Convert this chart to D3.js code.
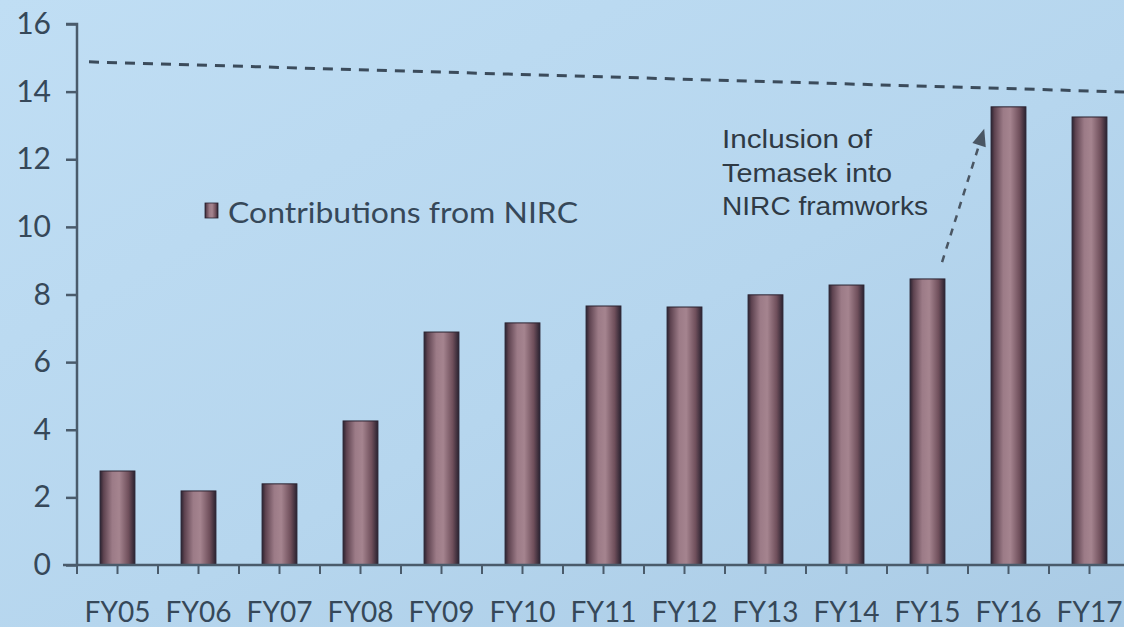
<!DOCTYPE html>
<html>
<head>
<meta charset="utf-8">
<script src="https://cdn.jsdelivr.net/npm/d3@7"></script>
<style>
  html, body { margin: 0; padding: 0; background: #b8d7ee; }
  svg { display: block; }
</style>
</head>
<body>
<svg id="chart" width="1124" height="627"></svg>
<script>
// Fiscal years and NIRC contributions (S$ billion)
const categories = ["FY05","FY06","FY07","FY08","FY09","FY10","FY11","FY12","FY13","FY14","FY15","FY16","FY17"];
const contributions = [2.78, 2.19, 2.40, 4.26, 6.89, 7.16, 7.66, 7.63, 7.99, 8.28, 8.46, 13.55, 13.25];
const yTicks = [0, 2, 4, 6, 8, 10, 12, 14, 16];
const legendLabel = "Contributions from NIRC";
// Dashed reference line: value at its left end and at its right end
const refLineValues = [14.88, 13.99];
// Annotation arrow: [fractional category index, value] for tail and head
const arrowTail = [10.68, 8.96];
const arrowHead = [11.2, 12.9];
const noteLines = ["Inclusion of", "Temasek into", "NIRC framworks"];
const noteWidths = [150, 170, 206];

const svg = d3.select("#chart");
const W = 1124, H = 627;
const ink = "#364859";

// Slide background
const defs = svg.append("defs");
const bg = defs.append("linearGradient").attr("id", "bg")
  .attr("x1", "0").attr("y1", "0").attr("x2", "1").attr("y2", "1");
bg.append("stop").attr("offset", "0%").attr("stop-color", "#c0def4");
bg.append("stop").attr("offset", "55%").attr("stop-color", "#b6d6ee");
bg.append("stop").attr("offset", "100%").attr("stop-color", "#aacbe5");
svg.append("rect").attr("width", W).attr("height", H).attr("fill", "url(#bg)");

// Cylinder-like shading for the bars
const barGrad = defs.append("linearGradient").attr("id", "bar")
  .attr("x1", "0").attr("y1", "0").attr("x2", "1").attr("y2", "0");
[["0%", "#2c2330"], ["10%", "#5e4350"], ["35%", "#9c7b87"], ["55%", "#a5848f"],
 ["82%", "#6f4f5b"], ["100%", "#2a2230"]].forEach(([o, c]) =>
  barGrad.append("stop").attr("offset", o).attr("stop-color", c));

const x0 = 77, step = 81;
const x = d3.scaleBand().domain(categories)
  .range([x0, x0 + step * categories.length])
  .paddingInner(0.57).paddingOuter(0.285);
const xi = d3.scaleLinear().domain([0, categories.length]).range([x0, x0 + step * categories.length]);
const y = d3.scaleLinear().domain([0, 16]).range([565, 24]);

// Bars
svg.append("g").selectAll("rect").data(categories).join("rect")
  .attr("x", d => x(d))
  .attr("width", x.bandwidth())
  .attr("y", (d, i) => y(contributions[i]))
  .attr("height", (d, i) => y(0) - y(contributions[i]))
  .attr("fill", "url(#bar)")
  .attr("stroke", "#2a2230").attr("stroke-width", 1);

// Y axis
const yAxis = svg.append("g").attr("transform", `translate(${x0},0)`)
  .call(d3.axisLeft(y).tickValues(yTicks).tickSize(11).tickPadding(15));
yAxis.select(".domain").attr("d", `M-11,${y(16)}H0V${y(0)}`);
yAxis.selectAll("line, path").attr("stroke", "#4a5b6b").attr("stroke-width", 2.5);
yAxis.selectAll("text").attr("fill", ink)
  .style("font-family", "Lato, 'Open Sans', sans-serif").style("font-size", "30px");

// X axis: ticks at band edges and band centers
const halfSteps = d3.range(0, categories.length * 2 + 1).map(k => k / 2);
const xAxisG = svg.append("g").attr("transform", `translate(0,${y(0)})`);
xAxisG.append("line").attr("x1", x0 - 14).attr("x2", W)
  .attr("stroke", "#4a5b6b").attr("stroke-width", 2.5);
xAxisG.selectAll("line.tick").data(halfSteps).join("line").attr("class", "tick")
  .attr("x1", d => xi(d)).attr("x2", d => xi(d))
  .attr("y1", 0).attr("y2", 9)
  .attr("stroke", "#4a5b6b").attr("stroke-width", 2);
xAxisG.selectAll("text").data(categories).join("text")
  .attr("x", d => x(d) + x.bandwidth() / 2)
  .attr("y", 57)
  .attr("text-anchor", "middle")
  .attr("fill", ink)
  .style("font-family", "Lato, 'Open Sans', sans-serif").style("font-size", "28px")
  .text(d => d);

// Dashed reference line
svg.append("line")
  .attr("x1", x0 + 12).attr("y1", y(refLineValues[0]))
  .attr("x2", W).attr("y2", y(refLineValues[1]))
  .attr("stroke", "#3b4b5b").attr("stroke-width", 3)
  .attr("stroke-dasharray", "10 8");

// Legend
const legend = svg.append("g").attr("transform", "translate(205,203)");
legend.append("rect").attr("width", 13).attr("height", 15)
  .attr("fill", "url(#bar)").attr("stroke", "#2a2230").attr("stroke-width", 0.8);
legend.append("text").attr("x", 23).attr("y", 20)
  .attr("fill", ink)
  .style("font-family", "Lato, 'Open Sans', sans-serif").style("font-size", "28px")
  .attr("textLength", 350).attr("lengthAdjust", "spacingAndGlyphs")
  .text(legendLabel);

// Annotation text
svg.append("g").selectAll("text").data(noteLines).join("text")
  .attr("x", 722)
  .attr("y", (d, i) => 148 + i * 33.5)
  .attr("fill", "#2f3a45")
  .style("font-family", "'Liberation Sans', Arial, sans-serif").style("font-size", "26px")
  .attr("textLength", (d, i) => noteWidths[i]).attr("lengthAdjust", "spacingAndGlyphs")
  .text(d => d);

// Annotation arrow
const tx = xi(arrowTail[0]), ty = y(arrowTail[1]);
const hx = xi(arrowHead[0]), hy = y(arrowHead[1]);
const ang = Math.atan2(hy - ty, hx - tx);
const headLen = 17, headHalf = 7;
const bx = hx - headLen * Math.cos(ang), by = hy - headLen * Math.sin(ang);
svg.append("line")
  .attr("x1", tx).attr("y1", ty).attr("x2", bx).attr("y2", by)
  .attr("stroke", "#4a5663").attr("stroke-width", 2.5)
  .attr("stroke-dasharray", "7 7");
svg.append("path")
  .attr("d", `M${hx},${hy}L${bx + headHalf * Math.sin(ang)},${by - headHalf * Math.cos(ang)}L${bx - headHalf * Math.sin(ang)},${by + headHalf * Math.cos(ang)}Z`)
  .attr("fill", "#4a5663");
</script>
</body>
</html>
